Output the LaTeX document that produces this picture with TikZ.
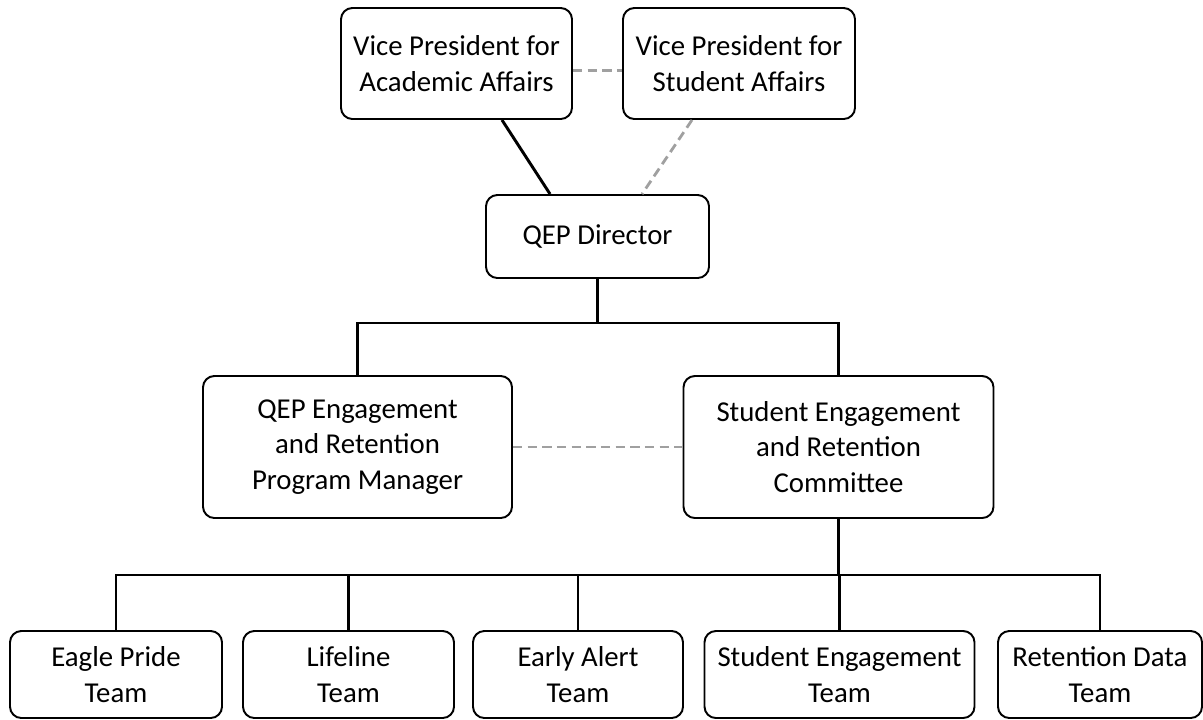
\documentclass[tikz,border=0pt]{standalone}
\usepackage{fontspec}
\setmainfont{Carlito}
\usetikzlibrary{calc}
\definecolor{dashgray}{HTML}{A0A0A0}
\tikzset{
  box/.style={draw=black, line width=1.45pt, rounded corners=8.5pt, fill=white,
    inner sep=0pt, align=center, font=\fontsize{21.6}{26.6}\selectfont},
  link/.style={draw=black, line width=2.2pt},
  dlink/.style={draw=dashgray, line width=2.1pt, dash pattern=on 7pt off 4pt},
}
\begin{document}
\begin{tikzpicture}[x=0.75pt,y=-0.75pt]
\useasboundingbox[fill=white] (0,0) rectangle (1203,719);
% top
\node[box, minimum width=173.25pt, minimum height=83.25pt] (vpaa) at (456.5,63.5) {Vice President for\\Academic Affairs};
\node[box, minimum width=174pt, minimum height=83.25pt] (vpsa) at (739,63.5) {Vice President for\\Student Affairs};
\node[box, minimum width=167.25pt, minimum height=62.25pt] (dir) at (597.5,236.5) {QEP Director};
% middle
\node[box, minimum width=231.75pt, minimum height=106.5pt] (pm) at (357.5,447) {QEP Engagement\\and Retention\\Program Manager};
\node[box, minimum width=232.5pt, minimum height=106.5pt] (serc) at (838.5,447) {Student Engagement\\and Retention\\Committee};
% bottom
\node[box, minimum width=159pt, minimum height=65.25pt] (eagle) at (116,674.5) {Eagle Pride\\Team};
\node[box, minimum width=158.25pt, minimum height=65.25pt] (life) at (348.5,674.5) {Lifeline\\Team};
\node[box, minimum width=157.5pt, minimum height=65.25pt] (early) at (578,674.5) {Early Alert\\Team};
\node[box, minimum width=202.5pt, minimum height=65.25pt] (set) at (839.5,674.5) {Student Engagement\\Team};
\node[box, minimum width=153pt, minimum height=65.25pt] (ret) at (1100,674.5) {Retention Data\\Team};
% connectors top
\draw[dlink] ([yshift=-5pt]vpaa.east) -- ([yshift=-5pt]vpsa.west);
\draw[link] ([xshift=34.1pt]vpaa.south) -- ([xshift=-35.6pt]dir.north);
\draw[dlink] ([xshift=-35.25pt]vpsa.south) -- ([xshift=33.4pt]dir.north);
% director to middle
\coordinate (b1) at (597.5,323);
\draw[link] (dir.south) -- (b1);
\draw[link] (pm.north) |- (b1) -| (serc.north);
\draw[dlink] (pm.east) -- (serc.west);
% committee to teams
\coordinate (b2) at (838.5,575);
\draw[link] (serc.south) -- (b2);
\draw[link] (eagle.north) |- (b2) -| (ret.north);
\draw[link] (life.north) -- (life.north |- b2);
\draw[link] (early.north) -- (early.north |- b2);
\draw[link] (set.north) -- (set.north |- b2);
\end{tikzpicture}
\end{document}
